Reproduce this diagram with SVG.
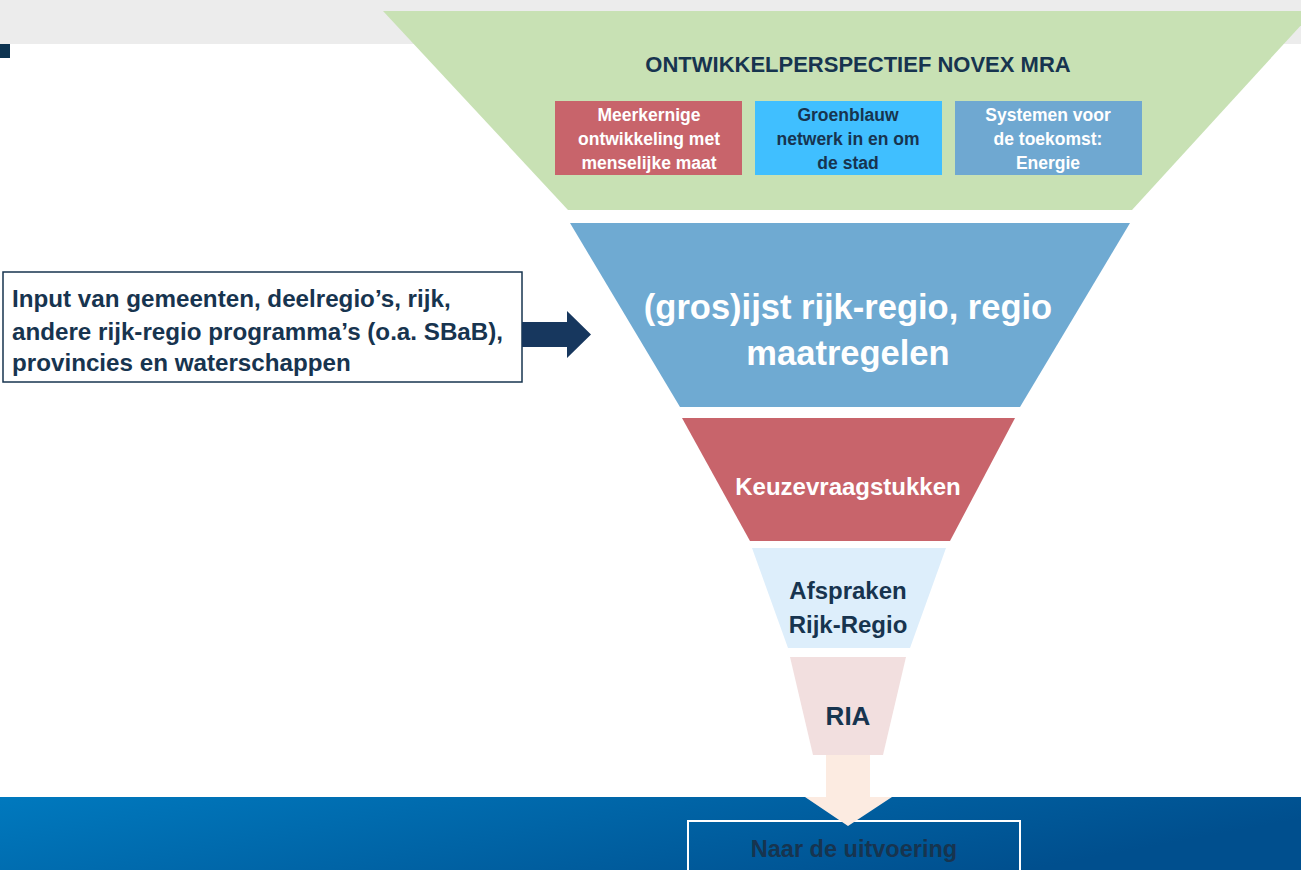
<svg xmlns="http://www.w3.org/2000/svg" width="1301" height="870" viewBox="0 0 1301 870">
<defs>
<linearGradient id="band" x1="0" y1="0" x2="1" y2="0.3">
<stop offset="0" stop-color="#0079BE"/>
<stop offset="1" stop-color="#004F8E"/>
</linearGradient>
<style>
text{font-family:"Liberation Sans",Arial,sans-serif;font-weight:bold;text-anchor:middle}
.dk{fill:#17344F}
.wh{fill:#FFFFFF}
</style>
</defs>
<rect x="0" y="0" width="1301" height="44" fill="#ECECEC"/>
<rect x="0" y="44" width="10" height="14" fill="#0D3350"/>
<rect x="0" y="797" width="1301" height="73" fill="url(#band)"/>
<g id="novex">
<polygon points="383,11 1314,11 1132,210 568,210" fill="#C8E1B4"/>
<text class="dk" x="858" y="72" font-size="22">ONTWIKKELPERSPECTIEF NOVEX MRA</text>
</g>
<g id="box-meerkernig">
<rect x="555" y="101" width="187" height="74" fill="#C8646B"/>
<text class="wh" font-size="17.5"><tspan x="649" y="121">Meerkernige</tspan><tspan x="649" y="145">ontwikkeling met</tspan><tspan x="649" y="169">menselijke maat</tspan></text>
</g>
<g id="box-groenblauw">
<rect x="755" y="101" width="187" height="74" fill="#40BFFF"/>
<text class="dk" font-size="17.5"><tspan x="848" y="121">Groenblauw</tspan><tspan x="848" y="145">netwerk in en om</tspan><tspan x="848" y="169">de stad</tspan></text>
</g>
<g id="box-systemen">
<rect x="955" y="101" width="187" height="74" fill="#6FA8D1"/>
<text class="wh" font-size="17.5"><tspan x="1048" y="121">Systemen voor</tspan><tspan x="1048" y="145">de toekomst:</tspan><tspan x="1048" y="169">Energie</tspan></text>
</g>
<g id="longlist">
<polygon points="570,223 1130,223 1020,407 680,407" fill="#6FAAD2"/>
<text class="wh" font-size="34.5"><tspan x="848" y="319">(gros)ijst rijk-regio, regio</tspan><tspan x="848" y="365">maatregelen</tspan></text>
</g>
<g id="keuze">
<polygon points="682,418 1015,418 950,541 750,541" fill="#C8646B"/>
<text class="wh" x="848" y="495" font-size="24">Keuzevraagstukken</text>
</g>
<g id="afspraken">
<polygon points="752,548 946,548 910,648 788,648" fill="#DDEEFB"/>
<text class="dk" font-size="24"><tspan x="848" y="599">Afspraken</tspan><tspan x="848" y="633">Rijk-Regio</tspan></text>
</g>
<g id="ria">
<polygon points="790,657 906,657 883,755 813,755" fill="#F2DFDF"/>
<text class="dk" x="848" y="725" font-size="26">RIA</text>
</g>
<g id="input">
<rect x="3" y="272" width="519" height="110" fill="#FFFFFF" stroke="#17344F" stroke-width="1.5"/>
<text class="dk" font-size="24.2" style="text-anchor:start"><tspan x="12" y="307">Input van gemeenten, deelregio’s, rijk,</tspan><tspan x="12" y="340">andere rijk-regio programma’s (o.a. SBaB),</tspan><tspan x="12" y="371">provincies en waterschappen</tspan></text>
</g>
<g id="uitvoering">
<rect x="688" y="821" width="332" height="60" fill="none" stroke="#FFFFFF" stroke-width="2"/>
<text class="dk" x="854" y="857" font-size="23.5">Naar de uitvoering</text>
</g>
<g id="connectors">
<polygon points="522,322 567,322 567,311 591,334.5 567,358 567,347 522,347" fill="#17375E"/>
<polygon points="826,755 870,755 870,797 892,797 848,826 805,797 826,797" fill="#FCEBE1"/>
</g>
</svg>
